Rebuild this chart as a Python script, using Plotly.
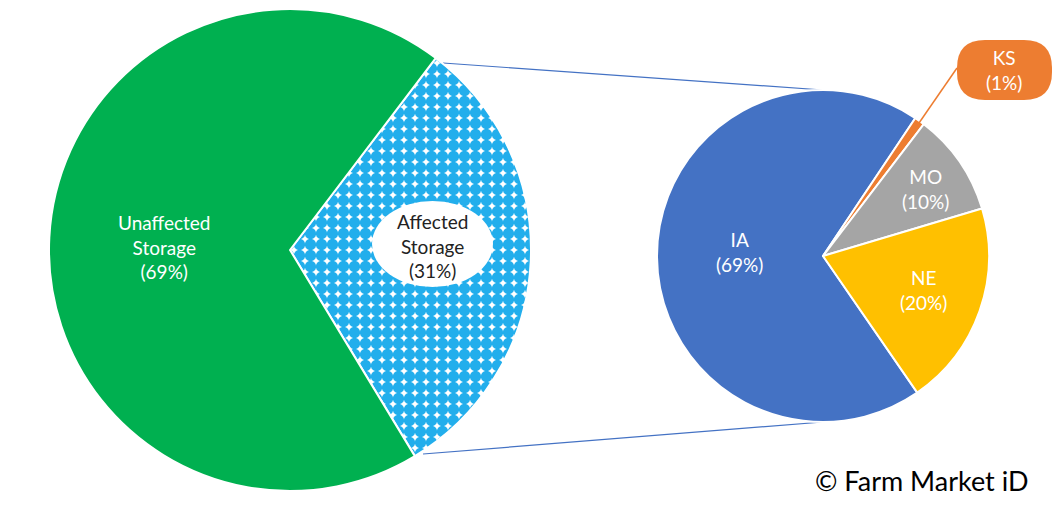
import plotly.graph_objects as go

# ---- data ----
main_labels = ["Affected Storage", "Unaffected Storage"]
main_values = [31, 69]
main_text = ["Affected<br>Storage<br>(31%)", "Unaffected<br>Storage<br>(69%)"]

state_labels = ["IA", "KS", "MO", "NE"]
state_values = [69, 1, 10, 20]

W, H = 1060, 530
OFF = 8  # page body margin


def px(x):
    return (x - OFF) / W


def py(y):
    return 1 - (y - OFF) / H


fig = go.Figure()

# left pie
fig.add_trace(go.Pie(
    labels=main_labels, values=main_values, sort=False, direction="clockwise",
    rotation=37.2, textinfo="none", hoverinfo="label+percent",
    marker=dict(colors=["#22AEEC", "#00B050"], line=dict(color="white", width=2),
                pattern=dict(shape=[".", ""], fgcolor=["#22AEEC", "#00B050"],
                             bgcolor=["white", "#00B050"], size=11, solidity=0.8,
                             fillmode="replace")),
    domain=dict(x=[px(49), px(531)], y=[py(491), py(9)]),
    showlegend=False,
))

# right pie
fig.add_trace(go.Pie(
    labels=state_labels, values=state_values, sort=False, direction="clockwise",
    rotation=145.4, textinfo="none", hoverinfo="label+percent",
    marker=dict(colors=["#4472C4", "#ED7D31", "#A5A5A5", "#FFC000"],
                line=dict(color="white", width=2)),
    domain=dict(x=[px(657), px(989)], y=[py(422), py(90)]),
    showlegend=False,
))

shapes = []
# connector lines
shapes.append(dict(type="line", xref="paper", yref="paper",
                   x0=px(443), y0=py(63), x1=px(823), y1=py(90),
                   line=dict(color="#4472C4", width=1.2), layer="below"))
shapes.append(dict(type="line", xref="paper", yref="paper",
                   x0=px(423), y0=py(454), x1=px(823), y1=py(422),
                   line=dict(color="#4472C4", width=1.2), layer="below"))
# white ellipse behind affected label
shapes.append(dict(type="circle", xref="paper", yref="paper",
                   x0=px(372), y0=py(287), x1=px(493), y1=py(201),
                   fillcolor="white", line=dict(width=0), layer="above"))
# KS leader line
shapes.append(dict(type="line", xref="paper", yref="paper",
                   x0=px(957), y0=py(68), x1=px(919), y1=py(123),
                   line=dict(color="#ED7D31", width=1.5), layer="above"))
# KS rounded box
x0, x1, y0, y1, r = 957, 1052, 40, 100, 28
path = (f"M {px(x0 + r)},{py(y0)} L {px(x1 - r)},{py(y0)} "
        f"Q {px(x1)},{py(y0)} {px(x1)},{py(y0 + r)} L {px(x1)},{py(y1 - r)} "
        f"Q {px(x1)},{py(y1)} {px(x1 - r)},{py(y1)} L {px(x0 + r)},{py(y1)} "
        f"Q {px(x0)},{py(y1)} {px(x0)},{py(y1 - r)} L {px(x0)},{py(y0 + r)} "
        f"Q {px(x0)},{py(y0)} {px(x0 + r)},{py(y0)} Z")
shapes.append(dict(type="path", xref="paper", yref="paper", path=path,
                   fillcolor="#ED7D31", line=dict(width=0), layer="above"))

font = "Lato, Open Sans, sans-serif"
FS = 19
ann = []
ann.append(dict(x=px(164), y=py(247), text=main_text[1],
                font=dict(color="white", size=FS, family=font)))
ann.append(dict(x=px(432), y=py(246), text=main_text[0],
                font=dict(color="#222222", size=FS, family=font)))
state_pos = {"IA": (739, 252), "KS": (1004, 70), "MO": (925, 189), "NE": (923, 290)}
for lab, val in zip(state_labels, state_values):
    x, y = state_pos[lab]
    ann.append(dict(x=px(x), y=py(y), text=f"{lab}<br>({val}%)",
                    font=dict(color="white", size=FS, family=font)))
ann.append(dict(x=px(922), y=py(480), text="© Farm Market iD",
                font=dict(color="black", size=27, family=font)))
for a in ann:
    a.update(xref="paper", yref="paper", showarrow=False, xanchor="center", yanchor="middle")

fig.update_layout(width=W, height=H, margin=dict(l=0, r=0, t=0, b=0),
                  paper_bgcolor="white", plot_bgcolor="white",
                  shapes=shapes, annotations=ann)

fig.write_html("out.html")
